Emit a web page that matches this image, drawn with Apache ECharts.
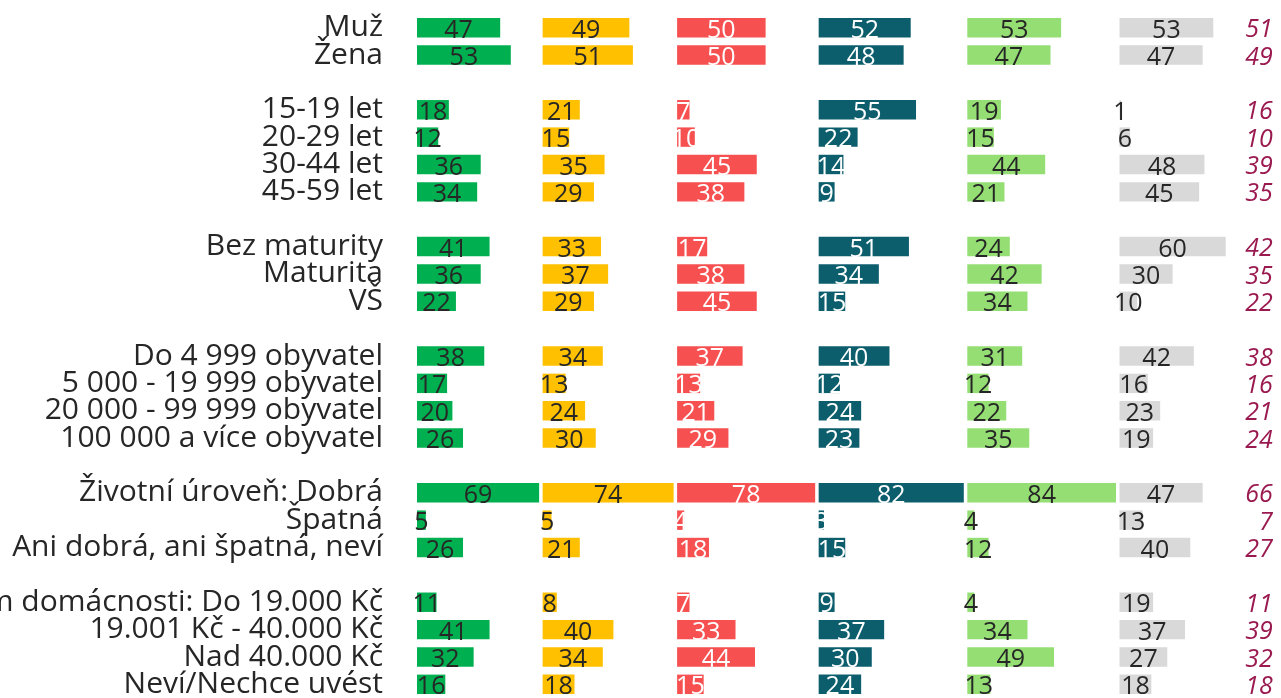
<!DOCTYPE html>
<html>
<head>
<meta charset="utf-8">
<script src="https://cdn.jsdelivr.net/npm/echarts@6/dist/echarts.min.js"></script>
<style>
  html, body { margin: 0; padding: 0; background: #ffffff; }
  #chart { width: 1281px; height: 698px; }
</style>
</head>
<body>
<div id="chart"></div>
<script>
// Row labels; empty strings are spacer rows between the groups
const categories = [
  'Muž', 'Žena', '',
  '15-19 let', '20-29 let', '30-44 let', '45-59 let', '',
  'Bez maturity', 'Maturita', 'VŠ', '',
  'Do 4 999 obyvatel', '5 000 - 19 999 obyvatel', '20 000 - 99 999 obyvatel', '100 000 a více obyvatel', '',
  'Životní úroveň: Dobrá', 'Špatná', 'Ani dobrá, ani špatná, neví', '',
  'Čistý měsíční příjem domácnosti: Do 19.000 Kč', '19.001 Kč - 40.000 Kč', 'Nad 40.000 Kč', 'Neví/Nechce uvést'
];

// Values of the six bar columns (percent), null on spacer rows
const valuesGreen = [47, 53, null, 18, 12, 36, 34, null, 41, 36, 22, null, 38, 17, 20, 26, null, 69, 5, 26, null, 11, 41, 32, 16];
const valuesYellow = [49, 51, null, 21, 15, 35, 29, null, 33, 37, 29, null, 34, 13, 24, 30, null, 74, 5, 21, null, 8, 40, 34, 18];
const valuesRed = [50, 50, null, 7, 10, 45, 38, null, 17, 38, 45, null, 37, 13, 21, 29, null, 78, 4, 18, null, 7, 33, 44, 15];
const valuesTeal = [52, 48, null, 55, 22, 14, 9, null, 51, 34, 15, null, 40, 12, 24, 23, null, 82, 3, 15, null, 9, 37, 30, 24];
const valuesLightGreen = [53, 47, null, 19, 15, 44, 21, null, 24, 42, 34, null, 31, 12, 22, 35, null, 84, 4, 12, null, 4, 34, 49, 13];
const valuesGrey = [53, 47, null, 1, 6, 48, 45, null, 60, 30, 10, null, 42, 16, 23, 19, null, 47, 13, 40, null, 19, 37, 27, 18];

// Whole-sample figure shown in italics at the right end of each row
const totals = [51, 49, null, 16, 10, 39, 35, null, 42, 35, 22, null, 38, 16, 21, 24, null, 66, 7, 27, null, 11, 39, 32, 18];

const columns = [valuesGreen, valuesYellow, valuesRed, valuesTeal, valuesLightGreen, valuesGrey];
const barColors = ['#00B050', '#FFC000', '#F75050', '#0C5E6D', '#94DE74', '#D9D9D9'];
const labelColors = ['#262626', '#262626', '#ffffff', '#ffffff', '#262626', '#262626'];

const FONT = 'Open Sans';
const PX_PER_UNIT = 1.77;   // shared horizontal scale of every column
const COLUMN_GAP = 3.5;     // space after the longest bar of a column
const FIRST_LEFT = 417;
const TOP = 14;

const grids = [], xAxes = [], yAxes = [], series = [];
let left = FIRST_LEFT;

columns.forEach(function (vals, i) {
  const max = Math.max.apply(null, vals.filter(function (v) { return v != null; }));
  grids.push({
    left: left, top: TOP, bottom: 0, width: max * PX_PER_UNIT,
    containLabel: false, outerBoundsMode: 'none'
  });
  xAxes.push({ gridIndex: i, type: 'value', min: 0, max: max, show: false });
  yAxes.push({
    gridIndex: i,
    type: 'category',
    data: categories,
    inverse: true,
    show: i === 0,
    axisLine: { show: false },
    axisTick: { show: false },
    splitLine: { show: false },
    axisLabel: {
      interval: 0,
      margin: 34,
      fontFamily: FONT,
      fontSize: 30,
      color: '#262626'
    }
  });
  series.push({
    type: 'bar',
    xAxisIndex: i,
    yAxisIndex: i,
    data: vals,
    barWidth: '71%',
    silent: true,
    itemStyle: { color: barColors[i] },
    label: {
      show: true,
      position: 'inside',
      fontFamily: FONT,
      fontSize: 25,
      color: labelColors[i],
      offset: [0, 3]
    }
  });
  left += max * PX_PER_UNIT + COLUMN_GAP;
});

// Italic totals, carried by a second category axis on the right of the last column
yAxes.push({
  gridIndex: columns.length - 1,
  type: 'category',
  position: 'right',
  inverse: true,
  data: totals.map(function (v) { return v == null ? '' : String(v); }),
  axisLine: { show: false },
  axisTick: { show: false },
  splitLine: { show: false },
  axisLabel: {
    interval: 0,
    align: 'right',
    margin: 47,
    formatter: function (v) { return v === '' ? '' : '{t|' + v + '}'; },
    rich: {
      t: {
        fontFamily: FONT,
        fontStyle: 'italic',
        fontSize: 25,
        color: '#9A1A50',
        padding: [5, 0, 0, 0]
      }
    }
  }
});

const chart = echarts.init(document.getElementById('chart'), null, { renderer: 'canvas' });
chart.setOption({
  animation: false,
  backgroundColor: '#ffffff',
  grid: grids,
  xAxis: xAxes,
  yAxis: yAxes,
  series: series
});
</script>
</body>
</html>
